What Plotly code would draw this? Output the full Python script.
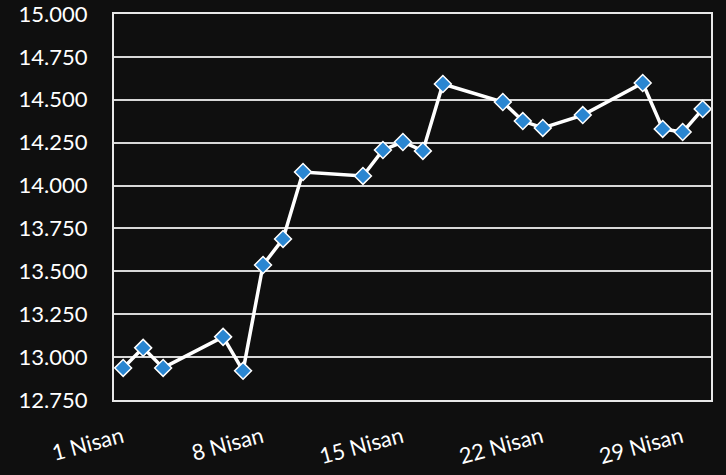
import plotly.graph_objects as go

# Nisan 2020, işlem günleri
dates = ['2020-04-01', '2020-04-02', '2020-04-03', '2020-04-06', '2020-04-07',
         '2020-04-08', '2020-04-09', '2020-04-10', '2020-04-13', '2020-04-14',
         '2020-04-15', '2020-04-16', '2020-04-17', '2020-04-20', '2020-04-21',
         '2020-04-22', '2020-04-24', '2020-04-27', '2020-04-28', '2020-04-29',
         '2020-04-30']
values = [12937, 13054, 12937, 13118, 12920,
          13537, 13689, 14079, 14056, 14207,
          14254, 14202, 14592, 14487, 14376,
          14336, 14411, 14598, 14330, 14312,
          14446]

tick_dates = ['2020-04-01', '2020-04-08', '2020-04-15', '2020-04-22', '2020-04-29']
tick_labels = ['1 Nisan', '8 Nisan', '15 Nisan', '22 Nisan', '29 Nisan']

bg = '#0f0f0f'

fig = go.Figure(go.Scatter(
    x=dates, y=values, mode='lines+markers',
    line=dict(color='white', width=3.5),
    marker=dict(symbol='diamond', size=13, color='#2a86d1',
                line=dict(color='white', width=1.5)),
))

fig.update_layout(
    width=726, height=475,
    margin=dict(l=114, r=15, t=14, b=75),
    paper_bgcolor=bg, plot_bgcolor=bg,
    showlegend=False,
    separators=',.',
    font=dict(family='Lato', size=22, color='white'),
)
fig.update_xaxes(
    range=['2020-03-31 13:00', '2020-04-30 10:00'],
    tickvals=tick_dates, ticktext=tick_labels, tickangle=-15,
    showgrid=False, zeroline=False, automargin=False,
    showline=True, mirror=True, linecolor='#e8e8e8', linewidth=2,
    ticklabelstandoff=14, ticklabelshift=-1,
)
fig.update_yaxes(
    range=[12750, 15000], dtick=250, tickformat=',.0f',
    showgrid=True, gridcolor='#d8d8d8', gridwidth=2, zeroline=False,
    showline=True, mirror=True, linecolor='#e8e8e8', linewidth=2,
    ticklabelstandoff=20, automargin=False, ticklabeloverflow='allow',
)

fig.write_html('out.html', config={'displayModeBar': False},
               post_script="document.body.style.margin='0';document.body.style.background='%s';" % bg)
